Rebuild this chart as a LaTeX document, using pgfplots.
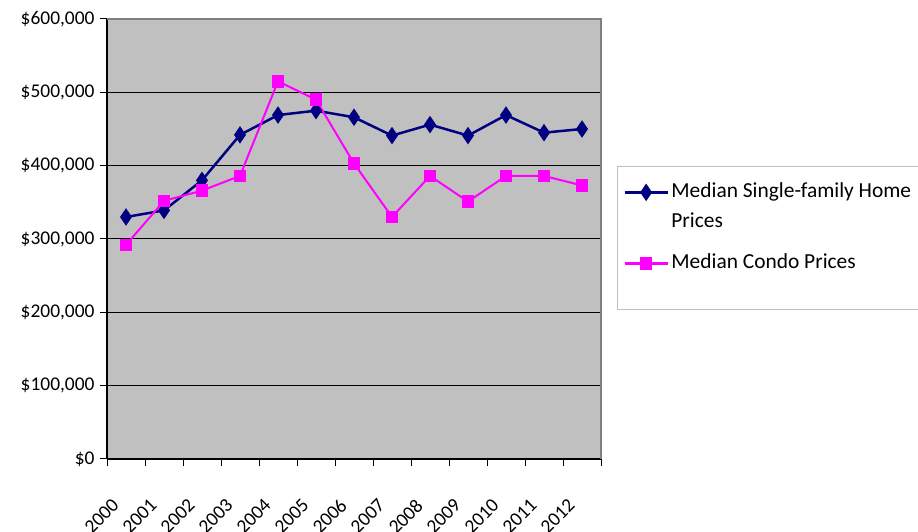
\documentclass[border=0pt]{standalone}
\usepackage{pgfplots}
\pgfplotsset{compat=1.18}
\usepackage{fontspec}
\setmainfont{Carlito}
\definecolor{navyline}{RGB}{0,0,128}
\definecolor{magline}{RGB}{255,0,255}
\definecolor{plotbg}{RGB}{192,192,192}
\begin{document}
\begin{tikzpicture}[x=1bp,y=1bp]
\path[use as bounding box] (-107,-73) rectangle (811,459);
\begin{axis}[
  at={(0,0)}, anchor=south west,
  scale only axis, width=494bp, height=440bp,
  xmin=-0.5, xmax=12.5, ymin=0, ymax=600000,
  axis x line*=bottom, axis y line*=left,
  axis line style={black, line width=1.2pt, -},
  axis background/.style={fill=plotbg},
  xtick={0,...,12},
  xticklabels={2000,2001,2002,2003,2004,2005,2006,2007,2008,2009,2010,2011,2012},
  major x tick style={draw=none},
  minor xtick={-0.5,0.5,...,12.5},
  minor x tick style={black, line width=1pt},
  minor tick length=7bp,
  tick align=outside,
  xticklabel style={xshift=-8bp, yshift=-34bp, rotate=45, anchor=east, font=\fontsize{19.5}{22}\selectfont},
  ytick={0,100000,...,600000},
  scaled y ticks=false,
  yticklabels={\$0,{\$100,000},{\$200,000},{\$300,000},{\$400,000},{\$500,000},{\$600,000}},
  yticklabel style={font=\fontsize{19.5}{22}\selectfont, xshift=-2bp},
  major y tick style={black, line width=1pt},
  major tick length=7bp,
  ymajorgrids, major grid style={black, line width=1pt},
  /pgf/number format/assume math mode=true,
  clip=false,
  legend style={at={(axis description cs:1.0324,0.666)}, anchor=north west,
    draw=gray!50, line width=0.8pt, fill=white,
    font=\fontsize{21.5}{26}\selectfont,
    inner xsep=6bp, inner ysep=11bp, row sep=0bp, column sep=0bp,
    nodes={inner xsep=2.5bp, inner ysep=5bp, text height=15bp, text depth=5bp}},
  legend cell align=left,
  legend image code/.code={\draw[#1, line width=2.5pt] (0,0) -- (43bp,0); \draw[#1, mark repeat=2, mark phase=2] plot coordinates {(0,0) (21.5bp,0) (43bp,0)};},
  after end axis/.code={\draw[gray, line width=2pt] (rel axis cs:0,1) -- (rel axis cs:1,1) -- (rel axis cs:1,0);},
]
\addplot[navyline, line width=2.5pt, mark=diamond*, mark size=6bp, mark options={solid, fill=navyline, yscale=1.1}]
coordinates {(0,330000) (1,339000) (2,380000) (3,442000) (4,469000) (5,475000) (6,466000) (7,441000) (8,456000) (9,441000) (10,469000) (11,445000) (12,450000)};
\addlegendentry{\makebox[400bp][l]{Median Single-family Home}}
\addlegendimage{empty legend}
\addlegendentry[text depth=16bp]{Prices}
\addplot[magline, line width=2pt, mark=square*, mark size=5.2bp, mark options={solid, fill=magline}]
coordinates {(0,292000) (1,352000) (2,366000) (3,386000) (4,515000) (5,490000) (6,403000) (7,330000) (8,386000) (9,351000) (10,386000) (11,386000) (12,373000)};
\addlegendentry{Median Condo Prices}
\addlegendimage{empty legend}
\addlegendentry[text height=10bp, text depth=0bp]{}
\end{axis}
\end{tikzpicture}
\end{document}
